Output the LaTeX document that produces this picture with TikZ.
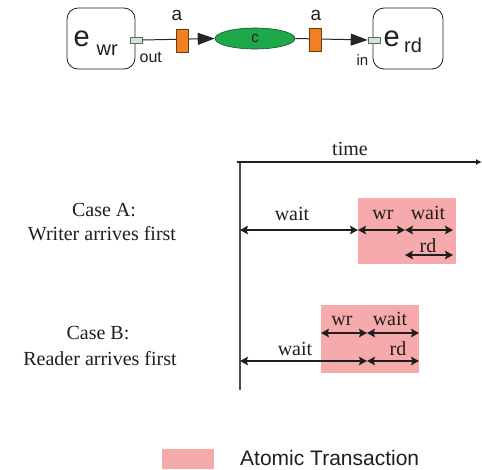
\documentclass[tikz,border=0pt]{standalone}
\usepackage{fontspec}
\setmainfont{Liberation Serif}
\newfontfamily\helv{Liberation Sans}
\usetikzlibrary{arrows.meta,shapes.geometric}
\definecolor{pinkT}{RGB}{246,170,172}
\definecolor{greenC}{RGB}{30,168,74}
\definecolor{greenD}{RGB}{20,80,40}
\definecolor{orangeA}{RGB}{240,128,32}
\definecolor{orangeD}{RGB}{110,60,20}
\definecolor{portC}{RGB}{205,232,210}
\definecolor{inkC}{RGB}{30,30,30}
\tikzset{
  ebox/.style={draw=inkC, line width=0.8pt, rounded corners=11pt, minimum width=68pt, minimum height=61pt, inner sep=0},
  portbox/.style={draw=gray!80!black, line width=0.6pt, fill=portC, minimum width=12pt, minimum height=6pt, inner sep=0},
  chanbox/.style={draw=orangeD, line width=0.6pt, fill=orangeA, minimum width=12pt, minimum height=23pt, inner sep=0},
  conn/.style={draw=gray!30!black, line width=1pt, -{Triangle[length=17pt,width=12pt]}},
  tarrow/.style={draw=inkC, line width=2pt, {Stealth[length=8pt,width=8.5pt,inset=1.5pt]}-{Stealth[length=8pt,width=8.5pt,inset=1.5pt]}},
  serlbl/.style={font=\fontsize{20}{24}\selectfont, anchor=base, inner sep=0, text=inkC},
  pinkbox/.style={fill=pinkT, draw=none},
}
\begin{document}
\begin{tikzpicture}[x=1pt,y=-1pt]
\useasboundingbox (0,0) rectangle (482,469);
% ---- top diagram ----
\node[ebox] (ewr) at (101,38.5) {};
\node[ebox, minimum width=70pt] (erd) at (408,38.5) {};
\node[portbox] (pout) at (136,40) {};
\node[portbox] (pin) at (374,40) {};
\node[ellipse, draw=greenD, line width=0.6pt, fill=greenC, minimum width=80pt, minimum height=21pt, inner sep=0] (c) at (255,38.5) {};
\node[font=\helv\fontsize{15}{15}\selectfont, inner sep=0, text=inkC] (clbl) at (255,38.5) {c};
\draw[conn] (pout.east) -- (c.west);
\draw[conn] (c.east) -- (pin.west);
\node[chanbox] (a1) at (182,40.5) {};
\node[chanbox] (a2) at (315.5,39.5) {};
\node[font=\helv\fontsize{19}{19}\selectfont, anchor=base, inner sep=0, text=inkC] (a1l) at (177,20) {a};
\node[font=\helv\fontsize{19}{19}\selectfont, anchor=base, inner sep=0, text=inkC] (a2l) at (316,20) {a};
\node[font=\helv\fontsize{29}{29}\selectfont, anchor=base west, inner sep=0, text=inkC] (ewre) at (73.5,46) {e};
\node[font=\helv\fontsize{20}{20}\selectfont, anchor=base west, inner sep=0, text=inkC] (ewrs) at (96.5,55) {wr};
\node[font=\helv\fontsize{29}{29}\selectfont, anchor=base west, inner sep=0, text=inkC] (erde) at (383.5,46) {e};
\node[font=\helv\fontsize{20}{20}\selectfont, anchor=base west, inner sep=0, text=inkC] (erds) at (404,52) {rd};
\node[font=\helv\fontsize{16}{16}\selectfont, anchor=base west, inner sep=0, text=inkC] (outl) at (139.5,62) {out};
\node[font=\helv\fontsize{15}{15}\selectfont, anchor=base east, inner sep=0, text=inkC] (inl) at (368.5,65) {in};
% ---- timeline ----
\fill[pinkbox] (358,198) rectangle (456,264);
\fill[pinkbox] (321,305) rectangle (419,373);
\coordinate (t0) at (237,162);
\coordinate (t1) at (482,162);
\coordinate (v0) at (240,162);
\coordinate (v1) at (240,390);
\draw[gray!60!black, line width=1.4pt] (v0) -- (v1);
\draw[inkC, line width=2.6pt, -{Latex[length=6pt,width=6pt]}] (t0) -- (t1);
\node[serlbl] (timel) at (350,155) {time};
% Case A
\coordinate (a0) at (240,230);
\coordinate (a1) at (358,230);
\coordinate (a2) at (405,230);
\coordinate (a3) at (453,230);
\coordinate (ar0) at (405,255);
\coordinate (ar1) at (453,255);
\draw[tarrow] (a0) -- (a1);
\draw[tarrow] (a1) -- (a2);
\draw[tarrow] (a2) -- (a3);
\draw[tarrow] (ar0) -- (ar1);
\node[serlbl] (aw1) at (292,220) {wait};
\node[serlbl] (awr) at (383,219) {wr};
\node[serlbl] (aw2) at (428,219) {wait};
\node[serlbl] (ard) at (428,252) {rd};
% Case B
\coordinate (b0) at (321,333);
\coordinate (b1) at (367,333);
\coordinate (b2) at (419,333);
\coordinate (c0) at (240,361);
\coordinate (c1) at (367,361);
\coordinate (c2) at (419,361);
\draw[tarrow] (b0) -- (b1);
\draw[tarrow] (b1) -- (b2);
\draw[tarrow] (c0) -- (c1);
\draw[tarrow] (c1) -- (c2);
\node[serlbl] (bwr) at (342,325) {wr};
\node[serlbl] (bw1) at (390,325) {wait};
\node[serlbl] (bw2) at (295,355) {wait};
\node[serlbl] (brd) at (398,355) {rd};
% case texts
\node[serlbl] (caseA) at (104,216) {Case A:};
\node[serlbl] (caseA2) at (102,240) {Writer arrives first};
\node[serlbl] (caseB) at (98,339) {Case B:};
\node[serlbl] (caseB2) at (100,365) {Reader arrives first};
% legend
\fill[pinkbox] (162,449) rectangle (214,469);
\node[font=\helv\fontsize{21}{21}\selectfont, anchor=base west, inner sep=0, text=inkC] (legl) at (240,465) {Atomic Transaction};
\end{tikzpicture}
\end{document}
